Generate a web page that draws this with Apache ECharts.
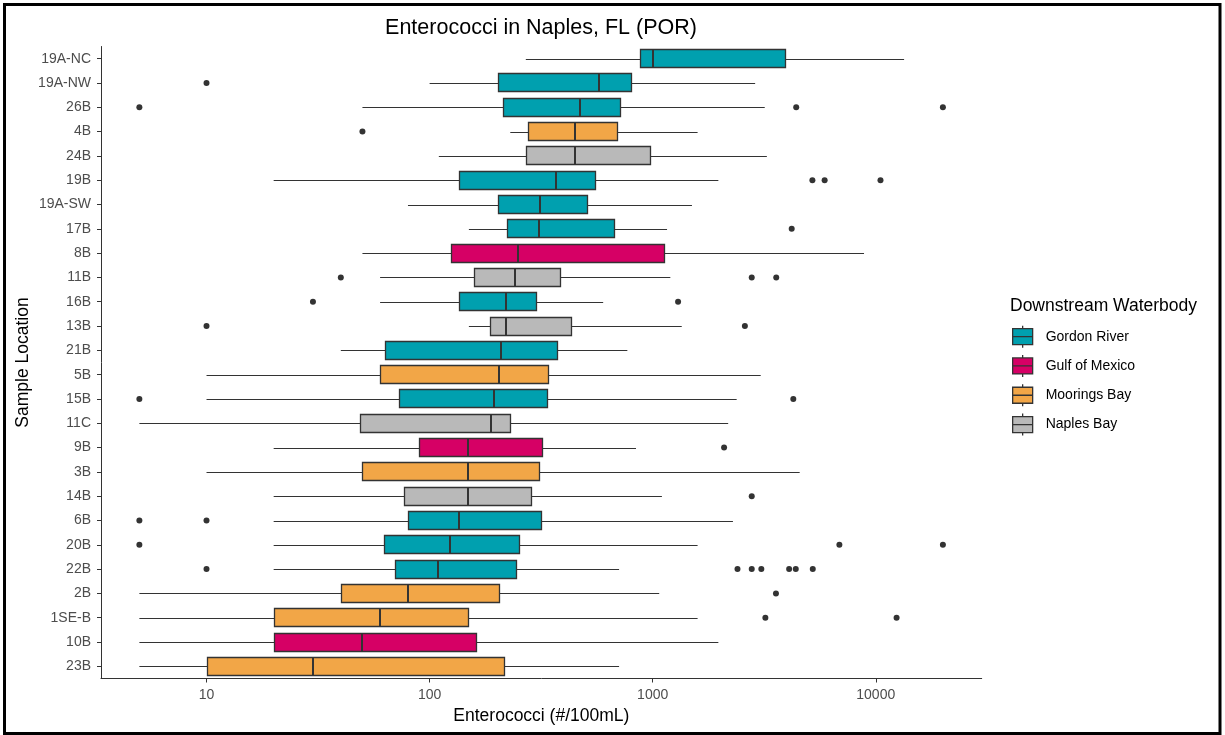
<!DOCTYPE html>
<html>
<head>
<meta charset="utf-8">
<script src="https://cdn.jsdelivr.net/npm/echarts@6/dist/echarts.min.js"></script>
<style>
html,body{margin:0;padding:0;background:#ffffff;}
#chart{width:1225px;height:735px;}
</style>
</head>
<body>
<div id="chart"></div>
<script>
// ---- data (top to bottom as in the reference) ----
const categories = ['19A-NC','19A-NW','26B','4B','24B','19B','19A-SW','17B','8B','11B','16B','13B','21B','5B','15B','11C','9B','3B','14B','6B','20B','22B','2B','1SE-B','10B','23B'];
const waterbody = ['Gordon River','Gordon River','Gordon River','Moorings Bay','Naples Bay','Gordon River','Gordon River','Gordon River','Gulf of Mexico','Naples Bay','Gordon River','Naples Bay','Gordon River','Moorings Bay','Gordon River','Naples Bay','Gulf of Mexico','Moorings Bay','Naples Bay','Gordon River','Gordon River','Gordon River','Moorings Bay','Moorings Bay','Gulf of Mexico','Moorings Bay'];
const whiskerLow  = [270, 100, 50, 230, 110, 20, 80, 150, 50, 60, 60, 150, 40, 10, 10, 5, 20, 10, 20, 20, 20, 20, 5, 5, 5, 5];
const q1          = [880, 203, 213, 275, 270, 136, 203, 222, 125, 158, 135, 186, 63, 60, 73, 49, 90, 50, 77, 80, 62.5, 70, 40, 20, 20, 10];
const median      = [1000, 573, 474, 450, 450, 369, 314, 309, 250, 241, 221, 221, 210, 204, 195, 189, 149, 149, 149, 135, 123.5, 109, 80, 60, 50, 30];
const q3          = [3920, 797, 714, 694, 973, 553, 508, 669, 1120, 385, 299, 430, 371, 340, 335, 230, 319, 310, 285, 315, 251, 245, 205, 148, 162, 216];
const whiskerHigh = [13400, 2880, 3180, 1590, 3250, 1970, 1500, 1160, 8860, 1200, 600, 1350, 770, 3050, 2380, 2180, 842, 4560, 1100, 2290, 1590, 707, 1070, 1590, 1970, 707];
const outlierCategory = ['19A-NW','26B','26B','26B','4B','19B','19B','19B','17B','11B','11B','11B','16B','16B','13B','13B','15B','15B','9B','14B','6B','6B','20B','20B','20B','22B','22B','22B','22B','22B','22B','22B','2B','1SE-B','1SE-B'];
const outlierValue    = [10, 5, 4400, 20000, 50, 5200, 5900, 10500, 4200, 40, 2780, 3580, 30, 1300, 10, 2590, 5, 4270, 2090, 2780, 5, 10, 5, 6870, 20000, 10, 2400, 2780, 3070, 4090, 4380, 5220, 3570, 3200, 12400];
const groupNames  = ['Gordon River','Gulf of Mexico','Moorings Bay','Naples Bay'];
const groupColors = ['#00A0AF','#D60065','#F2A647','#B9B9B9'];
const xTickValues = [10, 100, 1000, 10000];

const FONT = "'Liberation Sans', Arial, Helvetica, sans-serif";
const EDGE = '#333333';

function renderBox(params, api) {
  const c = api.value(0);
  const lo = api.coord([api.value(1), c]);
  const b1 = api.coord([api.value(2), c]);
  const md = api.coord([api.value(3), c]);
  const b3 = api.coord([api.value(4), c]);
  const hi = api.coord([api.value(5), c]);
  const band = api.size([0, 1], [api.value(3), c])[1];
  const h = band * 0.78;
  const yc = Math.round(md[1]) + 0.5;
  const top = Math.round(md[1] - h / 2) + 0.5;
  const bot = Math.round(md[1] + h / 2) - 0.5;
  const xl = Math.round(b1[0]) + 0.5;
  const xr = Math.round(b3[0]) + 0.5;
  const xm = Math.round(md[0]);
  const fill = api.visual('color');
  return {
    type: 'group',
    children: [
      { type: 'line', shape: { x1: lo[0], y1: yc, x2: xl, y2: yc }, style: { stroke: EDGE, lineWidth: 1 } },
      { type: 'line', shape: { x1: xr, y1: yc, x2: hi[0], y2: yc }, style: { stroke: EDGE, lineWidth: 1 } },
      { type: 'rect', shape: { x: xl, y: top, width: xr - xl, height: bot - top }, style: { fill: fill, stroke: EDGE, lineWidth: 1.3 } },
      { type: 'line', shape: { x1: xm, y1: top, x2: xm, y2: bot }, style: { stroke: EDGE, lineWidth: 2 } }
    ]
  };
}

const boxSeries = groupNames.map((g, gi) => ({
  type: 'custom',
  name: g,
  renderItem: renderBox,
  encode: { x: [1, 2, 3, 4, 5], y: 0 },
  itemStyle: { color: groupColors[gi], borderColor: EDGE, borderWidth: 1 },
  silent: true,
  z: 2,
  data: categories
    .map((c, i) => waterbody[i] === g ? [c, whiskerLow[i], q1[i], median[i], q3[i], whiskerHigh[i]] : null)
    .filter(d => d !== null)
}));

const outlierSeries = {
  type: 'scatter',
  name: 'Outliers',
  symbol: 'circle',
  symbolSize: 6,
  itemStyle: { color: EDGE, opacity: 1 },
  silent: true,
  z: 3,
  data: outlierValue.map((v, i) => [v, outlierCategory[i]])
};

const chart = echarts.init(document.getElementById('chart'), null, { renderer: 'canvas' });
chart.setOption({
  animation: false,
  backgroundColor: '#ffffff',
  textStyle: { fontFamily: FONT },
  title: [
    {
      text: 'Enterococci in Naples, FL (POR)',
      left: 536, top: 12, textAlign: 'center',
      textStyle: { fontFamily: FONT, fontSize: 21.5, fontWeight: 'normal', color: '#000000' }
    },
    {
      text: 'Downstream Waterbody',
      left: 1005, top: 292,
      textStyle: { fontFamily: FONT, fontSize: 17.5, fontWeight: 'normal', color: '#000000' }
    }
  ],
  legend: {
    orient: 'vertical',
    left: 1007, top: 320,
    itemWidth: 20, itemHeight: 22, itemGap: 6,
    selectedMode: false,
    icon: 'path://M0,3L20,3L20,19L0,19ZM0,11L20,11M10,0L10,3M10,19L10,22',
    itemStyle: { borderColor: EDGE, borderWidth: 1 },
    textStyle: { fontFamily: FONT, fontSize: 14, color: '#000000', padding: [0, 0, 0, 8] },
    data: groupNames.map((n, i) => ({ name: n, itemStyle: { color: groupColors[i], borderColor: EDGE, borderWidth: 1.3 } }))
  },
  grid: { left: 101, right: 243.3, top: 46.5, bottom: 56.5, containLabel: false, outerBoundsMode: 'none' },
  xAxis: {
    type: 'log', logBase: 10, min: 3.365, max: 29850,
    name: 'Enterococci (#/100mL)', nameLocation: 'middle', nameGap: 26,
    nameTextStyle: { fontFamily: FONT, fontSize: 17.5, color: '#000000' },
    axisLine: { show: true, lineStyle: { color: EDGE, width: 1 } },
    axisTick: { show: true, length: 4, lineStyle: { color: EDGE }, customValues: xTickValues },
    axisLabel: { fontFamily: FONT, fontSize: 14, color: '#4D4D4D', margin: 10, customValues: xTickValues, formatter: v => String(Math.round(v)) },
    splitLine: { show: false },
    minorTick: { show: false },
    minorSplitLine: { show: false }
  },
  yAxis: {
    type: 'category', data: categories, inverse: true,
    name: 'Sample Location', nameLocation: 'middle', nameGap: 69, nameRotate: 90,
    nameMoveOverlap: false,
    nameTextStyle: { fontFamily: FONT, fontSize: 17.5, color: '#000000' },
    axisLine: { show: true, lineStyle: { color: EDGE, width: 1 } },
    axisTick: { show: true, alignWithLabel: true, interval: 0, length: 4, lineStyle: { color: EDGE } },
    axisLabel: { fontFamily: FONT, fontSize: 14, color: '#4D4D4D', margin: 10, interval: 0 },
    splitLine: { show: false }
  },
  graphic: [
    { type: 'rect', shape: { x: 4.5, y: 4.5, width: 1215.5, height: 729 }, style: { fill: 'none', stroke: '#000000', lineWidth: 3 }, silent: true, z: 100 }
  ],
  series: boxSeries.concat([outlierSeries])
});
</script>
</body>
</html>
